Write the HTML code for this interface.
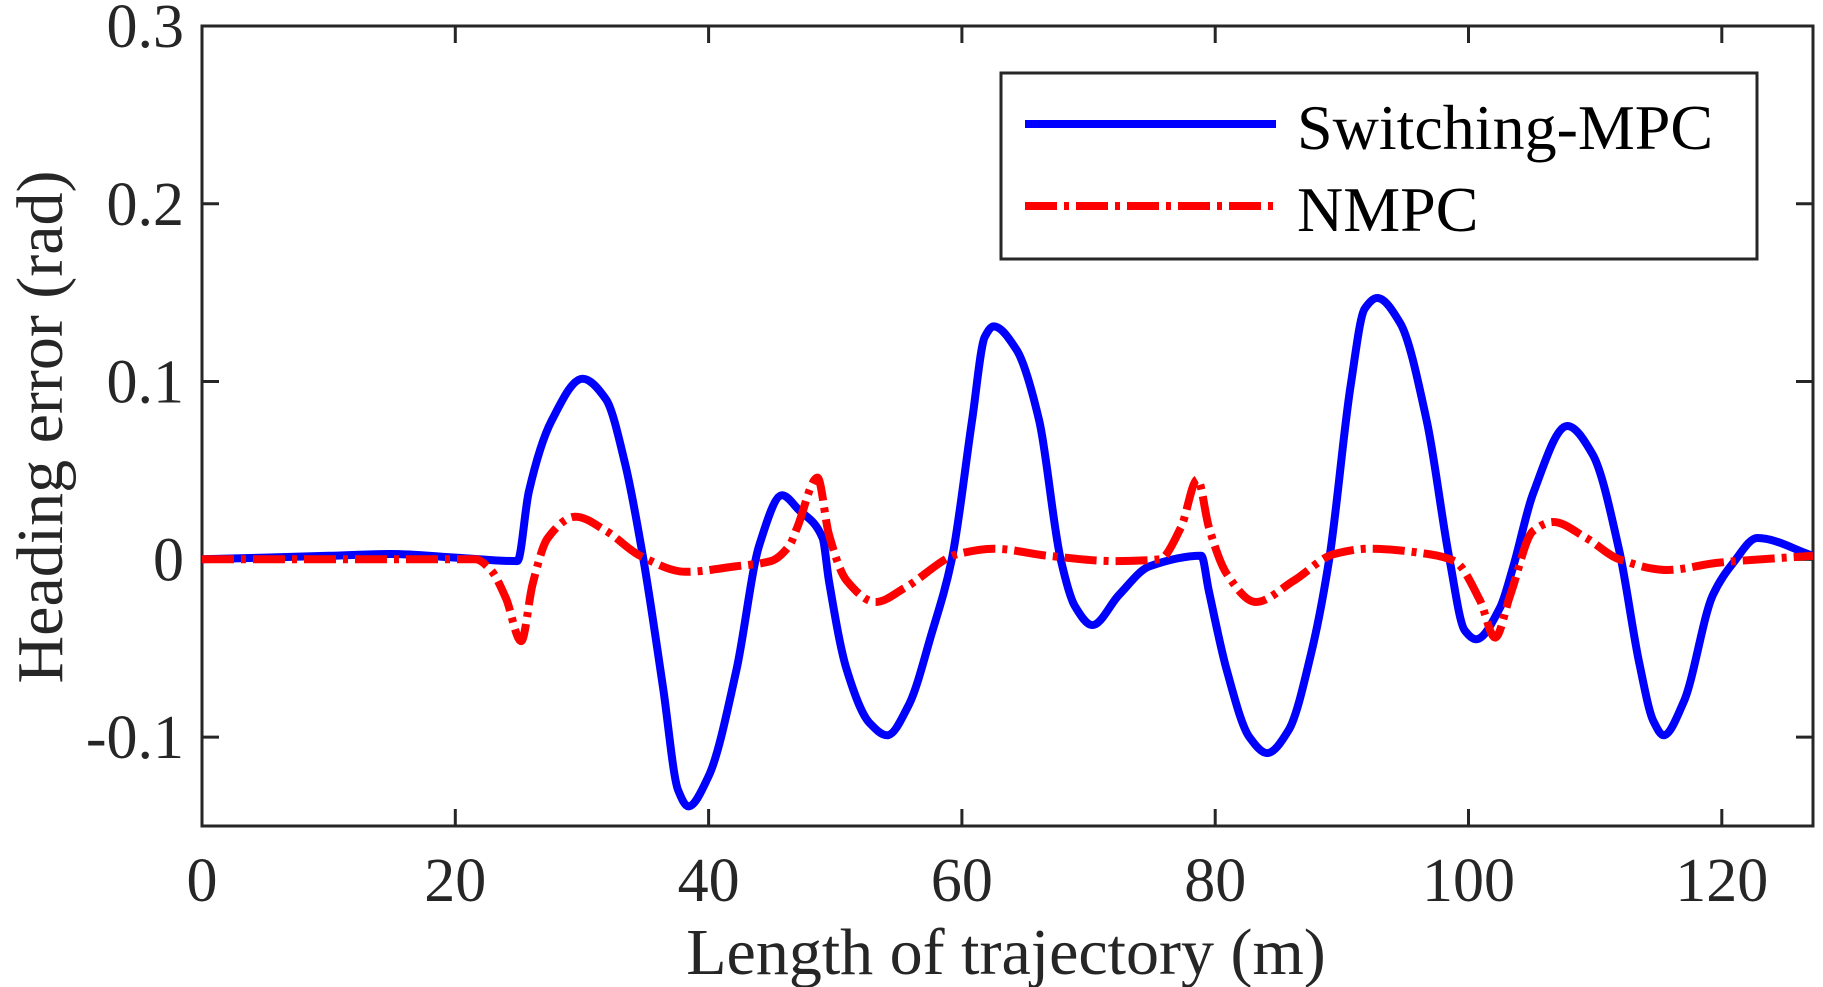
<!DOCTYPE html>
<html><head><meta charset="utf-8"><style>
html,body{margin:0;padding:0;background:#fff;}
svg{display:block;}
text{font-family:"Liberation Serif","Times New Roman",serif;fill:#262626;}
</style></head><body>
<svg id="chart" width="1823" height="987" viewBox="0 0 1823 987" xmlns="http://www.w3.org/2000/svg">
<g id="axes"></g>
<g id="series"></g>
<g id="legend">
<rect x="1001" y="73" width="756" height="186" fill="#fff" stroke="#262626" stroke-width="3"/>
<line x1="1025" y1="124" x2="1276" y2="124" stroke="#0000ff" stroke-width="8"/>
<text x="1297" y="149" font-size="64" style="fill:#000">Switching-MPC</text>
<line x1="1025" y1="206" x2="1276" y2="206" stroke="#ff0000" stroke-width="8" stroke-dasharray="32 7 5 7"/>
<text x="1297" y="231" font-size="64" style="fill:#000">NMPC</text>
</g>
<text x="1006" y="974" font-size="66" text-anchor="middle">Length of trajectory (m)</text>
<text x="0" y="0" font-size="66" text-anchor="middle" transform="translate(62,427) rotate(-90)">Heading error (rad)</text>
</svg>
<script>
const xTicks = [0, 20, 40, 60, 80, 100, 120];
const yTicks = [-0.1, 0, 0.1, 0.2, 0.3];
const yTickLabels = ["-0.1", "0", "0.1", "0.2", "0.3"];
const switchX = [0, 5, 10, 14.9, 20, 24.9, 25.8, 27.6, 30.05, 31.9, 33.4, 34.9, 36.4, 37.6, 38.4, 40.0, 42.2, 44.0, 45.8, 47.1, 49.0, 49.5, 50.9, 52.7, 54.1, 55.8, 57.6, 59.2, 60.8, 61.8, 62.5, 64.3, 66.1, 67.8, 68.9, 70.3, 72.4, 74.8, 78.9, 79.5, 80.9, 82.7, 84.1, 85.8, 87.6, 89.0, 90.7, 91.8, 92.8, 94.6, 96.7, 98.5, 99.7, 100.6, 102.5, 103.5, 105.1, 107.8, 109.8, 111.9, 113.5, 114.6, 115.4, 117.0, 119.3, 120.9, 122.8, 127.2];
const switchY = [0, 0.001, 0.002, 0.003, 0.001, -0.001, 0.038, 0.078, 0.1016, 0.09, 0.054, -0.002, -0.072, -0.13, -0.139, -0.122, -0.062, 0.008, 0.036, 0.028, 0.012, -0.012, -0.062, -0.092, -0.099, -0.082, -0.042, 0, 0.078, 0.125, 0.131, 0.118, 0.078, 0, -0.026, -0.037, -0.02, -0.004, 0.002, -0.018, -0.062, -0.1, -0.109, -0.096, -0.052, 0, 0.098, 0.141, 0.147, 0.133, 0.078, 0, -0.04, -0.045, -0.027, -0.005, 0.037, 0.075, 0.059, 0.005, -0.059, -0.091, -0.099, -0.08, -0.02, -0.002, 0.012, 0.002];
const nmpcX = [0, 10, 21.6, 22.8, 24.0, 25.2, 26.1, 27.3, 29.5, 31.9, 34.6, 38.2, 42.1, 44.9, 46.4, 47.0, 48.6, 49.5, 50.9, 53.2, 55.5, 59.7, 62.5, 66.8, 72.1, 75.6, 77.3, 78.6, 79.5, 80.9, 83.2, 86.2, 89.4, 92.2, 96.8, 98.9, 100.9, 102.1, 103.3, 105.1, 106.7, 109.3, 111.9, 115.7, 119.6, 127.2];
const nmpcY = [0, 0, 0, -0.006, -0.022, -0.046, -0.014, 0.012, 0.024, 0.016, 0.002, -0.007, -0.004, -0.001, 0.008, 0.018, 0.046, 0.014, -0.012, -0.024, -0.016, 0.003, 0.006, 0.002, -0.001, 0, 0.018, 0.045, 0.018, -0.008, -0.024, -0.012, 0.003, 0.006, 0.003, -0.001, -0.023, -0.044, -0.02, 0.016, 0.021, 0.012, 0, -0.006, -0.002, 0.002];

const L = 202, R = 1813, T = 26, B = 826;
const xMin = 0, xMax = 127.2, yMin = -0.15, yMax = 0.3;
const xs = v => L + (v - xMin) / (xMax - xMin) * (R - L);
const ys = v => B - (v - yMin) / (yMax - yMin) * (B - T);
const NS = "http://www.w3.org/2000/svg";
const axes = document.getElementById('axes');
const series = document.getElementById('series');
function mk(tag, attrs, parent) {
  const e = document.createElementNS(NS, tag);
  for (const k in attrs) e.setAttribute(k, attrs[k]);
  parent.appendChild(e);
  return e;
}
const frame = mk('rect', {x: L, y: T, width: R - L, height: B - T, fill: 'none', stroke: '#262626', 'stroke-width': 3}, axes);


xTicks.forEach(v => {
  const x = xs(v);
  const t1 = mk('line', {x1: x, y1: B, x2: x, y2: B - 17, stroke: '#262626', 'stroke-width': 3}, axes);
  
  
  const t2 = mk('line', {x1: x, y1: T, x2: x, y2: T + 17, stroke: '#262626', 'stroke-width': 3}, axes);
  
  
  const lb = mk('text', {x: x, y: 901, 'font-size': 62, 'text-anchor': 'middle'}, axes);
  lb.textContent = String(v);
  
  
});
yTicks.forEach((v, i) => {
  const y = ys(v);
  const t1 = mk('line', {x1: L, y1: y, x2: L + 17, y2: y, stroke: '#262626', 'stroke-width': 3}, axes);
  
  
  const t2 = mk('line', {x1: R, y1: y, x2: R - 17, y2: y, stroke: '#262626', 'stroke-width': 3}, axes);
  
  
  const lb = mk('text', {x: 184, y: y + 21, 'font-size': 62, 'text-anchor': 'end'}, axes);
  lb.textContent = yTickLabels[i];
  
  
});
function pathD(X, Y) {
  // monotone cubic (Fritsch-Carlson) in pixel space, no overshoot
  const px = X.map(xs), py = Y.map(ys), n = px.length;
  const d = [], m = new Array(n);
  for (let i = 0; i < n - 1; i++) d.push((py[i + 1] - py[i]) / (px[i + 1] - px[i]));
  m[0] = d[0]; m[n - 1] = d[n - 2];
  for (let i = 1; i < n - 1; i++) {
    if (d[i - 1] * d[i] <= 0) m[i] = 0;
    else {
      const h0 = px[i] - px[i - 1], h1 = px[i + 1] - px[i];
      const w1 = 2 * h1 + h0, w2 = h1 + 2 * h0;
      m[i] = (w1 + w2) / (w1 / d[i - 1] + w2 / d[i]);
    }
  }
  let s = 'M' + px[0].toFixed(1) + ',' + py[0].toFixed(1);
  for (let i = 0; i < n - 1; i++) {
    const h = px[i + 1] - px[i];
    s += ' C' + (px[i] + h / 3).toFixed(1) + ',' + (py[i] + m[i] * h / 3).toFixed(1) + ' ' +
      (px[i + 1] - h / 3).toFixed(1) + ',' + (py[i + 1] - m[i + 1] * h / 3).toFixed(1) + ' ' +
      px[i + 1].toFixed(1) + ',' + py[i + 1].toFixed(1);
  }
  return s;
}
const sw = mk('path', {d: pathD(switchX, switchY), fill: 'none', stroke: '#0000ff', 'stroke-width': 8, 'stroke-linejoin': 'round'}, series);


const nm = mk('path', {d: pathD(nmpcX, nmpcY), fill: 'none', stroke: '#ff0000', 'stroke-width': 8, 'stroke-dasharray': '32 7 5 7'}, series);


</script>
</body></html>
